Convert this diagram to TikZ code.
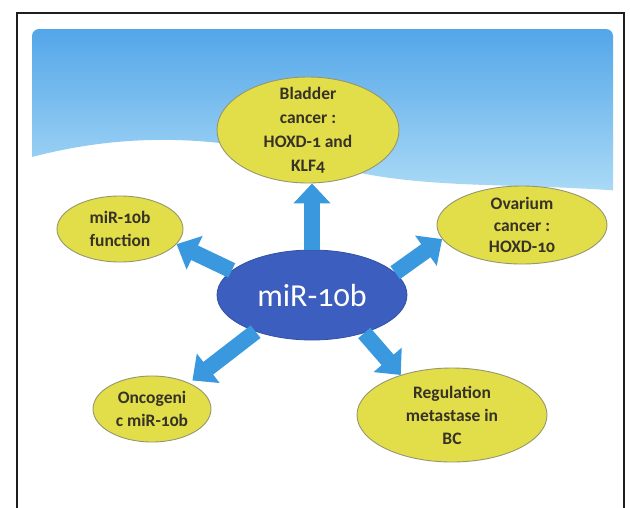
\documentclass[tikz,border=0pt]{standalone}
\usepackage{fontspec}
\setmainfont{Carlito}[Numbers=OldStyle]
\usetikzlibrary{arrows.meta,shapes.geometric}
\definecolor{skytop}{RGB}{78,163,232}
\definecolor{skybot}{RGB}{170,218,246}
\definecolor{ylw}{RGB}{226,222,74}
\definecolor{ylwline}{RGB}{150,150,110}
\definecolor{corefill}{RGB}{60,94,190}
\definecolor{coreline}{RGB}{50,80,165}
\definecolor{arrowc}{RGB}{58,152,222}
\definecolor{txt}{RGB}{55,50,38}
\definecolor{framec}{RGB}{30,30,30}
\begin{document}
\begin{tikzpicture}[x=1pt,y=-1pt,
  leaf/.style={ellipse, draw=ylwline, line width=0.9pt, fill=ylw, text=txt,
    font=\bfseries\fontsize{17.5}{23}\selectfont, align=center, inner sep=-30pt},
  corenode/.style={ellipse, draw=coreline, line width=0.8pt, fill=corefill, text=white,
    font=\fontsize{32}{34}\selectfont, inner sep=-30pt},
  bigarrow/.style={draw=arrowc, line width=16pt, -{Triangle[width=36pt,length=20pt]}}]
\useasboundingbox (0,0) rectangle (630,507);
\fill[white] (0,0) rectangle (630,507);
% frame
\draw[framec, line width=1.8pt] (17,520) -- (17,13) -- (624,13) -- (624,520);
% sky
\begin{scope}
  \clip[rounded corners=7pt] (32,29) rectangle (613,300);
  \shade[top color=skytop, bottom color=skybot]
    (32,20) -- (622,20) -- (622,191)
    .. controls (500,182) and (420,190) .. (330,166)
    .. controls (250,142) and (150,126) .. (32,157) -- cycle;
\end{scope}
% nodes
\node[leaf, minimum width=182pt, minimum height=106pt, font=\bfseries\fontsize{17.5}{24}\selectfont] (bl) at (308,130) {Bladder\\cancer :\\HOXD-1 and\\KLF4};
\node[leaf, minimum width=126pt, minimum height=66pt] (fn) at (120,229) {miR-10b\\function};
\node[leaf, minimum width=170pt, minimum height=78pt, font=\bfseries\fontsize{17.5}{21.5}\selectfont] (ov) at (522,225) {Ovarium\\cancer :\\HOXD-10};
\node[leaf, minimum width=118pt, minimum height=66pt] (on) at (152,409) {Oncogeni\\c miR-10b};
\node[leaf, minimum width=190pt, minimum height=94pt] (rg) at (452,415) {Regulation\\metastase in\\BC};
\node[corenode, minimum width=190pt, minimum height=90pt] (c) at (312,295) {miR-10b};
% arrows
\draw[bigarrow] (c.north) -- (c.north |- bl.south);
\draw[bigarrow] (c.163) -- (fn.-15);
\draw[bigarrow] (c.15) -- (ov.190);
\draw[bigarrow, shorten >=4pt] (c.213) -- (on.35);
\draw[bigarrow] (c.-36) -- (rg.142);
\end{tikzpicture}
\end{document}
